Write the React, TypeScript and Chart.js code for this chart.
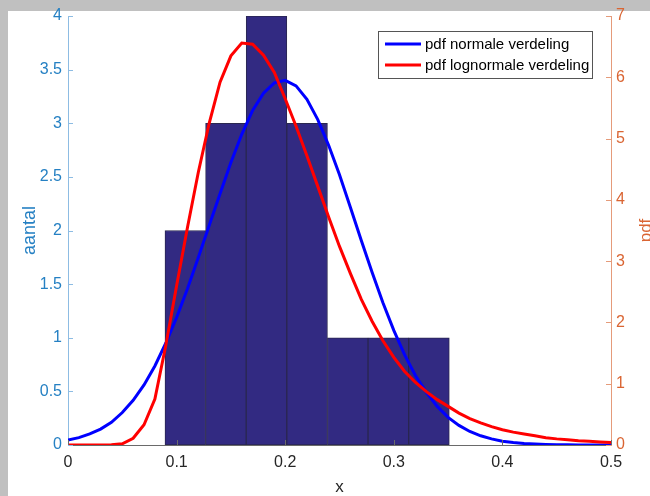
import React, { useEffect, useRef } from "react";
import { Chart, registerables } from "chart.js";

Chart.register(...registerables);

// Histogram (left axis: "aantal")
const binEdges = [0.0893, 0.1267, 0.1641, 0.2015, 0.2389, 0.2763, 0.3137, 0.3511];
const binCounts = [2, 3, 4, 3, 1, 1, 1];

// PDF curves (right axis: "pdf")
const pdfX = [
  0, 0.01, 0.02, 0.03, 0.04, 0.05, 0.06, 0.07, 0.08, 0.09,
  0.1, 0.11, 0.12, 0.13, 0.14, 0.15, 0.16, 0.17, 0.18, 0.19,
  0.2, 0.21, 0.22, 0.23, 0.24, 0.25, 0.26, 0.27, 0.28, 0.29,
  0.3, 0.31, 0.32, 0.33, 0.34, 0.35, 0.36, 0.37, 0.38, 0.39,
  0.4, 0.41, 0.42, 0.43, 0.44, 0.45, 0.46, 0.47, 0.48, 0.49, 0.5,
];
const normalPdf = [
  0.08, 0.12, 0.18, 0.26, 0.37, 0.53, 0.73, 0.98, 1.29, 1.66,
  2.08, 2.55, 3.06, 3.58, 4.1, 4.61, 5.07, 5.46, 5.74, 5.91,
  5.95, 5.86, 5.64, 5.31, 4.89, 4.41, 3.88, 3.34, 2.82, 2.32,
  1.87, 1.47, 1.13, 0.86, 0.63, 0.45, 0.32, 0.22, 0.15, 0.1,
  0.06, 0.04, 0.024, 0.015, 0.009, 0.005, 0.003, 0.002, 0.001, 0.0006, 0.0003,
];
const lognormalPdf = [
  0, 0, 0, 0, 0.003, 0.02, 0.11, 0.33, 0.75, 1.62,
  2.6, 3.55, 4.45, 5.25, 5.92, 6.35, 6.56, 6.54, 6.36, 6.08,
  5.65, 5.2, 4.72, 4.22, 3.72, 3.24, 2.8, 2.38, 2.02, 1.7,
  1.43, 1.2, 1.02, 0.87, 0.74, 0.63, 0.52, 0.43, 0.36, 0.3,
  0.25, 0.21, 0.18, 0.15, 0.12, 0.1, 0.085, 0.07, 0.06, 0.05, 0.042,
];

const seriesLabels = ["pdf normale verdeling", "pdf lognormale verdeling"];
const seriesColors = ["#0000FF", "#FF0000"];
const leftTitle = "aantal";
const rightTitle = "pdf";
const xTitle = "x";

const FONT = "'Liberation Sans', Arial, Helvetica, sans-serif";
const LEFT_LABEL = "#2580C3";
const LEFT_LINE = "#8DBCE3";
const RIGHT_LABEL = "#DA6533";
const RIGHT_LINE = "#E59B7A";
const X_LABEL = "#262626";
const X_LINE = "#6A6A6A";

const plainNumber = (v: any) => String(Math.round(Number(v) * 1000) / 1000);

const backgroundPlugin = {
  id: "bgFrame",
  beforeDraw(chart: any) {
    const ctx = chart.ctx;
    ctx.save();
    ctx.fillStyle = "#C0C0C0";
    ctx.fillRect(0, 0, chart.width, chart.height);
    ctx.fillStyle = "#FFFFFF";
    ctx.fillRect(8, 11, chart.width - 8, chart.height - 11);
    ctx.restore();
  },
};

const inwardTicksPlugin = {
  id: "inwardTicks",
  afterDraw(chart: any) {
    const ctx = chart.ctx;
    const area = chart.chartArea;
    ctx.save();
    ctx.lineWidth = 1;
    const len = 5;
    const ys = chart.scales.y;
    ctx.strokeStyle = LEFT_LINE;
    ys.ticks.forEach((t: any) => {
      const p = Math.round(ys.getPixelForValue(t.value)) + 0.5;
      ctx.beginPath();
      ctx.moveTo(area.left, p);
      ctx.lineTo(area.left + len, p);
      ctx.stroke();
    });
    const y2 = chart.scales.y2;
    ctx.strokeStyle = RIGHT_LINE;
    y2.ticks.forEach((t: any) => {
      const p = Math.round(y2.getPixelForValue(t.value)) + 0.5;
      ctx.beginPath();
      ctx.moveTo(area.right, p);
      ctx.lineTo(area.right - len, p);
      ctx.stroke();
    });
    const xs = chart.scales.x;
    ctx.strokeStyle = X_LINE;
    xs.ticks.forEach((t: any) => {
      const p = Math.round(xs.getPixelForValue(t.value)) + 0.5;
      ctx.beginPath();
      ctx.moveTo(p, area.bottom);
      ctx.lineTo(p, area.bottom - len);
      ctx.stroke();
    });
    // right axis title, rotated like MATLAB (reads bottom to top)
    ctx.fillStyle = RIGHT_LABEL;
    ctx.font = `17px ${FONT}`;
    ctx.translate(646, (area.top + area.bottom) / 2);
    ctx.rotate(-Math.PI / 2);
    ctx.textAlign = "center";
    ctx.textBaseline = "middle";
    ctx.fillText(rightTitle, 0, 0);
    ctx.restore();
  },
};

const legendPlugin = {
  id: "boxLegend",
  afterDraw(chart: any) {
    const ctx = chart.ctx;
    ctx.save();
    const bx = 378.5, by = 31.5, bw = 214, bh = 47;
    ctx.fillStyle = "#FFFFFF";
    ctx.fillRect(bx, by, bw, bh);
    ctx.strokeStyle = "#555555";
    ctx.lineWidth = 1;
    ctx.strokeRect(bx, by, bw, bh);
    ctx.font = `15px ${FONT}`;
    ctx.textBaseline = "middle";
    ctx.textAlign = "left";
    seriesLabels.forEach((lab, i) => {
      const yy = 44 + i * 21;
      ctx.strokeStyle = seriesColors[i];
      ctx.lineWidth = 3;
      ctx.beginPath();
      ctx.moveTo(385, yy);
      ctx.lineTo(421, yy);
      ctx.stroke();
      ctx.fillStyle = "#000000";
      ctx.fillText(lab, 425, yy + 1);
    });
    ctx.restore();
  },
};

export default function App() {
  const canvasRef = useRef<HTMLCanvasElement | null>(null);

  useEffect(() => {
    document.body.style.margin = "0";
    const canvas = canvasRef.current;
    if (!canvas) return;

    const barData = binCounts.map((c, i) => ({
      x: (binEdges[i] + binEdges[i + 1]) / 2,
      y: c,
    }));
    const normalData = pdfX.map((x, i) => ({ x, y: normalPdf[i] }));
    const lognormalData = pdfX.map((x, i) => ({ x, y: lognormalPdf[i] }));

    const chart = new Chart(canvas, {
      type: "bar",
      data: {
        datasets: [
          {
            type: "line",
            label: seriesLabels[1],
            data: lognormalData,
            yAxisID: "y2",
            borderColor: seriesColors[1],
            borderWidth: 3,
            pointRadius: 0,
            tension: 0,
            fill: false,
            order: 0,
          } as any,
          {
            type: "line",
            label: seriesLabels[0],
            data: normalData,
            yAxisID: "y2",
            borderColor: seriesColors[0],
            borderWidth: 3,
            pointRadius: 0,
            tension: 0,
            fill: false,
            order: 1,
          } as any,
          {
            type: "bar",
            label: "aantal",
            data: barData,
            yAxisID: "y",
            backgroundColor: "#322A82",
            borderColor: "#2A2750",
            borderWidth: 1,
            borderSkipped: false,
            barPercentage: 1,
            categoryPercentage: 1,
            order: 2,
          } as any,
        ],
      },
      options: {
        animation: false,
        responsive: false,
        maintainAspectRatio: false,
        layout: { padding: { top: 16, left: 0, right: 0, bottom: 0 } },
        plugins: {
          legend: { display: false },
          tooltip: { enabled: false },
          title: { display: false },
        },
        scales: {
          x: {
            type: "linear",
            min: 0,
            max: 0.5,
            offset: false,
            grid: { display: false, drawTicks: false },
            border: { display: true, color: X_LINE, width: 1 },
            ticks: {
              stepSize: 0.1,
              color: X_LABEL,
              font: { family: FONT, size: 16 },
              padding: 8,
              maxRotation: 0,
              autoSkip: false,
              callback: plainNumber,
            },
            title: {
              display: true,
              text: xTitle,
              color: X_LABEL,
              font: { family: FONT, size: 17, lineHeight: 1 },
              padding: { top: 0, bottom: 0 },
            },
            afterFit(scale: any) {
              scale.height = 51;
            },
          },
          y: {
            type: "linear",
            position: "left",
            min: 0,
            max: 4,
            grid: { display: false, drawTicks: false },
            border: { display: true, color: LEFT_LINE, width: 1 },
            ticks: {
              stepSize: 0.5,
              color: LEFT_LABEL,
              font: { family: FONT, size: 16 },
              padding: 6,
              callback: plainNumber,
            },
            title: {
              display: true,
              text: leftTitle,
              color: LEFT_LABEL,
              font: { family: FONT, size: 18, lineHeight: 1 },
              padding: { top: 21, bottom: 0 },
            },
            afterFit(scale: any) {
              scale.width = 68;
            },
          },
          y2: {
            type: "linear",
            position: "right",
            min: 0,
            max: 7,
            grid: { display: false, drawTicks: false },
            border: { display: true, color: RIGHT_LINE, width: 1 },
            ticks: {
              stepSize: 1,
              color: RIGHT_LABEL,
              font: { family: FONT, size: 16 },
              padding: 5,
              callback: plainNumber,
            },
            afterFit(scale: any) {
              scale.width = 39;
            },
          },
        },
      } as any,
      plugins: [backgroundPlugin, inwardTicksPlugin, legendPlugin],
    });

    return () => {
      chart.destroy();
    };
  }, []);

  return (
    <div style={{ width: 650, height: 496, position: "relative" }}>
      <canvas
        ref={canvasRef}
        width={650}
        height={496}
        style={{ display: "block", width: 650, height: 496 }}
      />
    </div>
  );
}
